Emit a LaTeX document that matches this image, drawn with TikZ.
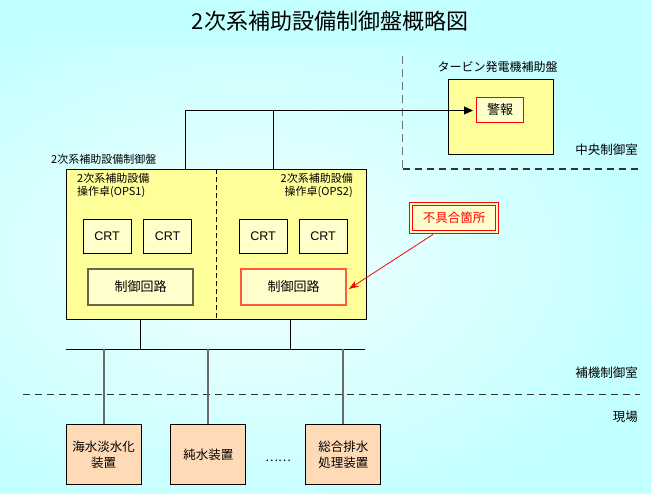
\documentclass[tikz,border=0pt]{standalone}
\usepackage{fontspec}
\setmainfont{Noto Sans CJK JP}
\newfontfamily\latinfont{Liberation Sans}
\usetikzlibrary{arrows.meta,calc}
\definecolor{bgout}{HTML}{C2FFFF}
\definecolor{bgin}{HTML}{F2FFFF}
\definecolor{panelyellow}{HTML}{FFFF99}
\definecolor{paleyellow}{HTML}{FFFFCC}
\definecolor{peach}{HTML}{FFDAB6}
\definecolor{boxred}{HTML}{FF5A40}
\definecolor{olivegray}{HTML}{66664A}
\definecolor{wiregray}{HTML}{6A6A6A}
\newcommand{\fsz}[2]{\fontsize{#1}{#2}\selectfont}
\tikzset{
  x=1pt,y=-1pt,
  txt/.style={inner sep=0pt},
  panel/.style={draw=black,line width=0.9pt,fill=panelyellow,inner sep=0pt},
  crtbox/.style={draw=black,line width=0.9pt,fill=paleyellow,minimum width=48pt,minimum height=34pt,inner sep=0pt,font=\latinfont\fsz{12.5}{14}},
  ctlbox/.style={draw=olivegray,line width=1.7pt,fill=paleyellow,minimum width=105pt,minimum height=36pt,inner sep=0pt,font=\fsz{13}{15}},
  ctlbad/.style={ctlbox,draw=boxred},
  fieldbox/.style={draw=black,line width=0.9pt,fill=peach,minimum width=75pt,minimum height=60pt,inner sep=0pt,align=center,font=\fsz{12.5}{15.7}},
  wire/.style={draw=black,line width=0.9pt},
  drop/.style={draw=wiregray,line width=1.8pt},
  zone/.style={draw=black!80,line width=1.2pt,dash pattern=on 7pt off 5pt},
  vzone/.style={draw=black!55,line width=1.5pt,dash pattern=on 8pt off 5pt},
}
\begin{document}
\begin{tikzpicture}
\useasboundingbox (0,0) rectangle (651,493);
% background
\fill[bgout] (0,0) rectangle (651,493);
\begin{scope}
\clip (0,45) rectangle (651,493);
\shade[inner color=bgin,outer color=bgout] (-170,-10) rectangle (670,530);
\end{scope}

% title
\node[txt,font=\fsz{22}{26}] (title) at (330,21) {2次系補助設備制御盤概略図};

% zone lines
\coordinate (zv1) at (402.7,56);
\coordinate (zv2) at (402.7,169);
\coordinate (zh2) at (640,169);
\draw[vzone] (zv1) -- (zv2);
\draw[zone] (zv2) -- (zh2);
\coordinate (zl1) at (23,394.3);
\coordinate (zl2) at (640,394.3);
\draw[zone] (zl1) -- (zl2);

\node[txt,font=\fsz{12.5}{15},anchor=east] (lcentral) at (638,150) {中央制御室};
\node[txt,font=\fsz{12.5}{15},anchor=east] (laux) at (638,373) {補機制御室};
\node[txt,font=\fsz{12.5}{15},anchor=east] (lfield) at (638,417) {現場};

% turbine panel
\node[txt,font=\fsz{12}{14}] (tplabel) at (497.5,67) {タービン発電機補助盤};
\node[panel,minimum width=105pt,minimum height=75pt,anchor=north west] (tp) at (447.7,79) {};
\node[draw=red,line width=1.2pt,fill=paleyellow,minimum width=47pt,minimum height=24.5pt,inner sep=0pt,font=\fsz{13}{15},anchor=north west] (alarm) at (476,97) {警報};

% main panel
\node[txt,font=\fsz{11}{13},anchor=west] (mainlabel) at (51,159) {2次系補助設備制御盤};
\node[panel,minimum width=300pt,minimum height=150pt,anchor=north west] (main) at (65.7,169) {};
\draw[black,line width=0.9pt,dash pattern=on 5pt off 3pt] (main.north) -- (main.south);
\node[txt,align=left,anchor=west,font=\fsz{11}{13}] (ops1) at (77,185.5) {2次系補助設備\\操作卓(OPS1)};
\node[txt,align=right,anchor=east,font=\fsz{11}{13}] (ops2) at (353,185.5) {2次系補助設備\\操作卓(OPS2)};

\node[crtbox] (crt1) at (107,236) {CRT};
\node[crtbox] (crt2) at (167.5,236) {CRT};
\node[crtbox] (crt3) at (263,236) {CRT};
\node[crtbox] (crt4) at (323,236) {CRT};
\node[ctlbox] (ctl1) at (140.5,287) {制御回路};
\node[ctlbad] (ctl2) at (293.5,287) {制御回路};

% flaw label
\node[draw=red,line width=0.9pt,double=paleyellow,double distance=2.6pt,fill=paleyellow,text=red,minimum width=86pt,minimum height=28pt,inner sep=0pt,font=\fsz{12.5}{15}] (flaw) at (454,218) {不具合箇所};
\draw[red,line width=0.8pt,-{Stealth[length=10pt,width=7pt]}] ($(flaw.south)+(-21,2)$) -- ($(ctl2.east)+(2,2)$);

% alarm connection
\coordinate (j1) at (185.5,110.5);
\coordinate (j2) at (273.5,110.5);
\draw[wire] (j1 |- main.north) -- (j1) -- (j2);
\draw[wire,-{Triangle[length=9pt,width=8pt]},shorten >=3pt] (j2) -- (alarm.west |- j2);
\draw[wire] (j2 |- main.north) -- (j2);

% bus
\coordinate (busL) at (65.7,349.3);
\coordinate (busR) at (365,349.3);
\draw[wire] (busL) -- (busR);
\coordinate (m1) at (140.7,319);
\coordinate (m2) at (290.7,319);
\draw[wire] (m1) -- (m1 |- busL);
\draw[wire] (m2) -- (m2 |- busL);

% field devices
\node[fieldbox,anchor=north west] (f1) at (65.7,424.3) {海水淡水化\\装置};
\node[fieldbox,anchor=north west] (f2) at (170.3,424.3) {純水装置};
\node[fieldbox,anchor=north west] (f3) at (305.3,424.3) {総合排水\\処理装置};
\draw[drop] (f1.north) -- (f1.north |- busL);
\draw[drop] (f2.north) -- (f2.north |- busL);
\draw[drop] (f3.north) -- (f3.north |- busL);
\node[txt,font=\fsz{12}{14}] (dots) at (278,461) {……};
\end{tikzpicture}
\end{document}
